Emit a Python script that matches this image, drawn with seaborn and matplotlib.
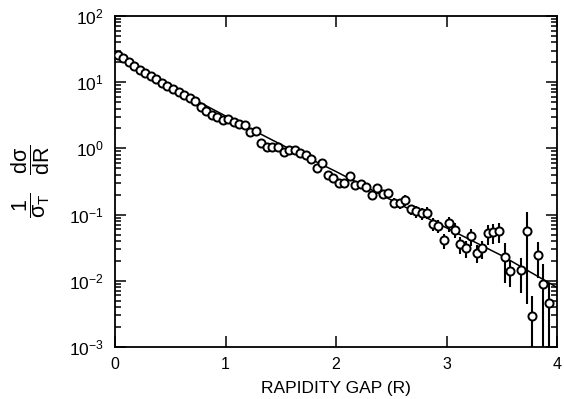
import numpy as np
import pandas as pd
import matplotlib
matplotlib.use("Agg")
import matplotlib.pyplot as plt
import seaborn as sns
from matplotlib.ticker import LogLocator, FixedLocator, NullFormatter, NullLocator, LogFormatterMathtext

# ---------------- data ----------------
gap = [0.025, 0.075, 0.125, 0.175, 0.225, 0.275, 0.325, 0.375, 0.425, 0.475,
       0.525, 0.575, 0.625, 0.675, 0.725, 0.775, 0.825, 0.875, 0.925, 0.975,
       1.025, 1.075, 1.125, 1.175, 1.225, 1.275, 1.325, 1.375, 1.425, 1.475,
       1.525, 1.575, 1.625, 1.675, 1.725, 1.775, 1.825, 1.875, 1.925, 1.975,
       2.025, 2.075, 2.125, 2.175, 2.225, 2.275, 2.325, 2.375, 2.425, 2.475,
       2.525, 2.575, 2.625, 2.675, 2.725, 2.775, 2.825, 2.875, 2.925, 2.975,
       3.025, 3.075, 3.125, 3.175, 3.225, 3.275, 3.325, 3.375, 3.425, 3.475,
       3.525, 3.575, 3.675, 3.725, 3.775, 3.825, 3.875, 3.925]
dsig = [25.7, 22.9, 20.0, 17.4, 15.5, 13.8, 12.3, 11.0, 9.77, 8.71,
        7.76, 7.08, 6.31, 5.75, 5.13, 4.27, 3.63, 3.16, 2.95, 2.69,
        2.82, 2.51, 2.34, 2.24, 1.78, 1.82, 1.20, 1.05, 1.05, 1.04,
        0.871, 0.955, 0.933, 0.851, 0.794, 0.692, 0.501, 0.603, 0.398, 0.363,
        0.302, 0.300, 0.380, 0.282, 0.288, 0.263, 0.200, 0.251, 0.204, 0.210,
        0.151, 0.148, 0.166, 0.120, 0.112, 0.105, 0.107, 0.0724, 0.0676, 0.0407,
        0.074, 0.0589, 0.0355, 0.0309, 0.0468, 0.0263, 0.031, 0.0525, 0.054, 0.0562,
        0.0229, 0.0141, 0.0145, 0.0562, 0.00295, 0.0245, 0.0089, 0.00457]
# relative statistical error (sigma / value)
rel_err = [0.03] * 30 + [0.05] * 10 + [0.10] * 10 + \
          [0.17, 0.17, 0.18, 0.18, 0.20, 0.20, 0.20, 0.22, 0.22, 0.25,
           0.25, 0.25, 0.28, 0.28, 0.28, 0.30, 0.30, 0.33, 0.33, 0.33,
           0.60, 0.42, 0.55, 0.92, 1.0, 0.55, 1.0, 1.0]

fit_gap = [0.0, 0.5, 1.0, 1.5, 2.0, 2.5, 3.0, 3.5, 4.0]
fit_val = [25.1, 8.51, 3.09, 1.15, 0.447, 0.166, 0.0631, 0.0240, 0.00794]

x_ticks = [0, 1, 2, 3, 4]
x_ticklabels = ["0", "1", "2", "3", "4"]

# ---------------- style ----------------
sns.set_style("ticks")
plt.rcParams["font.family"] = ["Liberation Sans", "DejaVu Sans"]
plt.rcParams["mathtext.fontset"] = "custom"
plt.rcParams["mathtext.rm"] = "Liberation Sans"
plt.rcParams["mathtext.it"] = "Liberation Sans"
plt.rcParams["mathtext.bf"] = "Liberation Sans:bold"
plt.rcParams["mathtext.default"] = "regular"
plt.rcParams["text.color"] = "black"
plt.rcParams["axes.labelcolor"] = "black"

fig = plt.figure(figsize=(5.64, 3.99), dpi=100)
ax = fig.add_axes([115 / 564, 52 / 399, 442 / 564, 331 / 399])

df = pd.DataFrame({"R": gap, "y": dsig})
err = np.array(rel_err) * np.array(dsig)

ax.errorbar(gap, dsig, yerr=err, fmt="none", ecolor="black", elinewidth=1.5,
            capsize=0, zorder=2)
sns.lineplot(x=fit_gap, y=fit_val, ax=ax, color="black", linewidth=1.1, zorder=2)
sns.scatterplot(data=df, x="R", y="y", ax=ax, marker="o", s=34,
                facecolor="white", edgecolor="black", linewidth=1.4, zorder=3)

ax.set_yscale("log")
ax.set_xlim(0, 4)
ax.set_ylim(1e-3, 1e2)

ax.xaxis.set_major_locator(FixedLocator(x_ticks))
ax.set_xticklabels(x_ticklabels)
ax.xaxis.set_minor_locator(NullLocator())
ax.yaxis.set_major_locator(LogLocator(base=10, numticks=10))
ax.yaxis.set_minor_locator(LogLocator(base=10, subs=np.arange(2, 10), numticks=20))
ax.yaxis.set_major_formatter(LogFormatterMathtext())
ax.yaxis.set_minor_formatter(NullFormatter())

ax.tick_params(which="both", direction="in", top=True, right=True,
               color="black", width=1.1, labelcolor="black")
ax.tick_params(which="major", length=8)
ax.tick_params(which="minor", length=4.5)
ax.tick_params(axis="y", which="major", pad=8, labelsize=12.5)
ax.tick_params(axis="x", which="major", pad=7, labelsize=11.5)

for sp in ax.spines.values():
    sp.set_visible(True)
    sp.set_color("black")
    sp.set_linewidth(1.3)

ax.set_xlabel("RAPIDITY GAP (R)", fontsize=12.5, labelpad=7, color="black")
ax.set_ylabel(r"$\dfrac{1}{\sigma_{T}}\quad\dfrac{d\sigma}{dR}$", fontsize=15.5,
              labelpad=12, color="black")

fig.savefig("out.png", dpi=100)
